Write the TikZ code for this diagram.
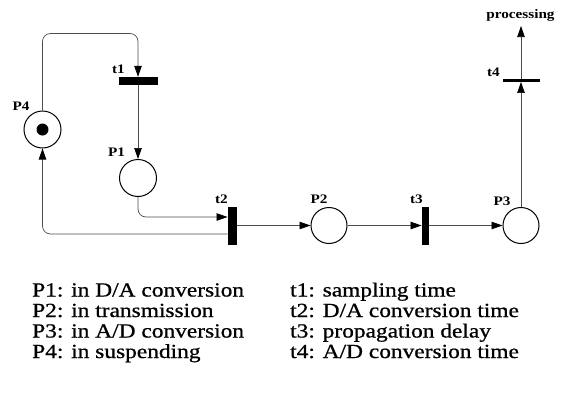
\documentclass[tikz,border=0pt]{standalone}
\usepackage{fontspec}
\setmainfont{Liberation Serif}[FakeStretch=1.17]
\newfontfamily\legfont{Liberation Serif}[FakeStretch=1.17,FakeBold=0.8]
\usetikzlibrary{arrows.meta}
\tikzset{
  place/.style={circle,draw=black,line width=1pt,minimum size=37pt,inner sep=0pt,fill=white},
  token/.style={circle,fill=black,minimum size=12pt,inner sep=0pt},
  bar/.style={rectangle,fill=black,inner sep=0pt},
  arc/.style={draw=black!70,line width=0.7pt,-{Triangle[length=11pt,width=7.5pt,color=black]}},
  lbl/.style={font=\bfseries\fontsize{13}{15}\selectfont,inner sep=0pt},
  legend/.style={font=\legfont\fontsize{20}{24}\selectfont,inner sep=0pt,anchor=base west}
}
\begin{document}
\begin{tikzpicture}[x=1pt,y=-1pt]
\useasboundingbox (0,0) rectangle (566,397);
% places
\node[place] (P4) at (42.5,129.5) {};
\node[token] (tok) at (42.5,129.5) {};
\node[place] (P1) at (138,178) {};
\node[place,minimum size=36pt] (P2) at (329,225.5) {};
\node[place,minimum size=36pt] (P3) at (521,225.5) {};
% transitions
\node[bar,minimum width=39pt,minimum height=8pt] (t1) at (138,81) {};
\node[bar,minimum width=9.5pt,minimum height=38pt] (t2) at (232.5,226) {};
\node[bar,minimum width=7.5pt,minimum height=38pt] (t3) at (425.5,226) {};
\node[bar,minimum width=37pt,minimum height=2.5pt] (t4) at (521,80.5) {};
\coordinate (procend) at (521,26);
\coordinate (topy) at (0,33.5);
% labels
\node[lbl] (lP4) at (21,106) {P4};
\node[lbl] (lt1) at (118.5,69.5) {t1};
\node[lbl] (lP1) at (116.5,152.5) {P1};
\node[lbl] (lt2) at (221.5,199) {t2};
\node[lbl] (lP2) at (319,199.5) {P2};
\node[lbl] (lt3) at (416.5,199) {t3};
\node[lbl] (lP3) at (502,201) {P3};
\node[lbl] (lt4) at (493.5,72) {t4};
\node[lbl] (proc) at (520.5,15) {processing};
% arcs
\draw[arc,rounded corners=8pt] (P4.north) |- (topy -| t1.north) -- (t1.north);
\draw[arc] (t1.south) -- (P1.north);
\draw[arc,rounded corners=8pt] (P1.south) |- ([yshift=9pt]t2.west);
\draw[arc,rounded corners=8pt] ([yshift=-8pt]t2.west) -| (P4.south);
\draw[arc] (t2.east |- P2.west) -- (P2.west);
\draw[arc] (P2.east) -- (t3.west |- P2.east);
\draw[arc] (t3.east |- P3.west) -- (P3.west);
\draw[arc] (P3.north) -- (t4.south);
\draw[arc] (t4.north) -- (procend);
% legend
\node[legend] (L1) at (32,296.5) {P1: in D/A conversion};
\node[legend] (L2) at (32,317) {P2: in transmission};
\node[legend] (L3) at (32,337.5) {P3: in A/D conversion};
\node[legend] (L4) at (32,358) {P4: in suspending};
\node[legend] (L5) at (290,296.5) {t1: sampling time};
\node[legend] (L6) at (290,317) {t2: D/A conversion time};
\node[legend] (L7) at (290,337.5) {t3: propagation delay};
\node[legend] (L8) at (290,358) {t4: A/D conversion time};
\end{tikzpicture}
\end{document}
